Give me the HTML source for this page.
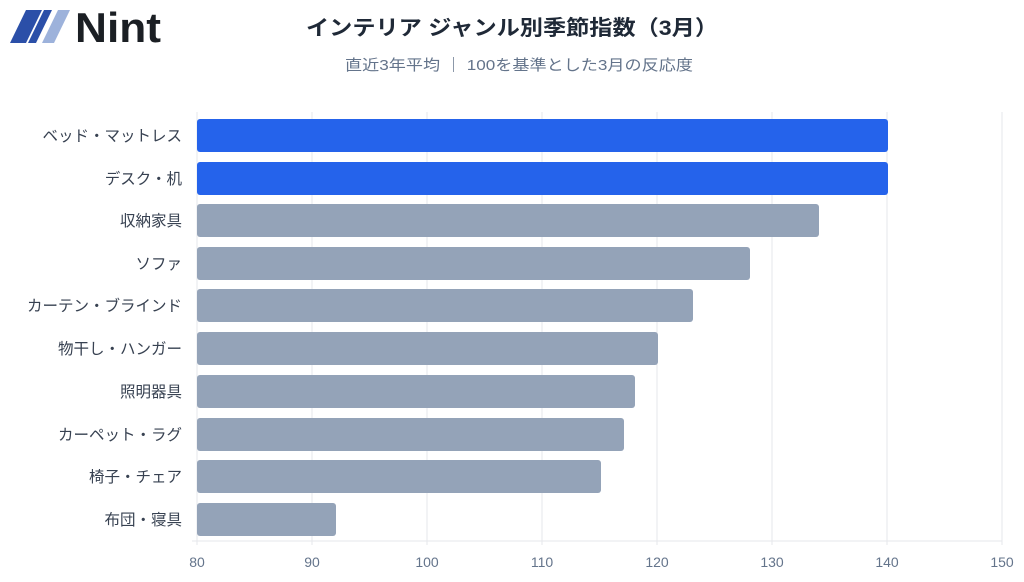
<!DOCTYPE html>
<html><head><meta charset="utf-8"><style>
body{margin:0;background:#fff;width:1024px;height:577px;overflow:hidden;font-family:"Liberation Sans","Noto Sans CJK JP",sans-serif}
</style></head><body>
<svg width="1024" height="577" xmlns="http://www.w3.org/2000/svg" font-family="Liberation Sans, Noto Sans CJK JP, sans-serif">
<rect width="1024" height="577" fill="#fff"/>
<!-- logo -->
<polygon points="10,43 26,10 42,10 26,43" fill="#2b4fa8"/>
<polygon points="28,43 44,10 52,10 36,43" fill="#2b4fa8"/>
<polygon points="42,43 58,10 70,10 54,43" fill="#9db2db"/>
<text x="75" y="42" font-size="42" font-weight="bold" fill="#1b1f24" textLength="86" lengthAdjust="spacingAndGlyphs">Nint</text>
<text x="512" y="35" font-size="21" font-weight="bold" fill="#1f2937" text-anchor="middle" textLength="412" lengthAdjust="spacingAndGlyphs">インテリア ジャンル別季節指数（3月）</text>
<text x="519" y="70" font-size="15" fill="#64748b" text-anchor="middle" textLength="348" lengthAdjust="spacingAndGlyphs">直近3年平均 ｜ 100を基準とした3月の反応度</text>
<g stroke="#e5e7eb" stroke-width="1">
<line x1="312" y1="112" x2="312" y2="545"/><line x1="427" y1="112" x2="427" y2="545"/>
<line x1="542" y1="112" x2="542" y2="545"/><line x1="657" y1="112" x2="657" y2="545"/>
<line x1="772" y1="112" x2="772" y2="545"/><line x1="887" y1="112" x2="887" y2="545"/>
<line x1="1002" y1="112" x2="1002" y2="545"/>
<line x1="197" y1="112" x2="197" y2="545"/>
<line x1="192" y1="541" x2="1002" y2="541"/>
</g>
<g>
<rect x="197" y="119" width="691" height="33" rx="3" fill="#2563eb"/>
<rect x="197" y="162" width="691" height="33" rx="3" fill="#2563eb"/>
<rect x="197" y="204" width="622" height="33" rx="3" fill="#94a3b8"/>
<rect x="197" y="247" width="553" height="33" rx="3" fill="#94a3b8"/>
<rect x="197" y="289" width="496" height="33" rx="3" fill="#94a3b8"/>
<rect x="197" y="332" width="461" height="33" rx="3" fill="#94a3b8"/>
<rect x="197" y="375" width="438" height="33" rx="3" fill="#94a3b8"/>
<rect x="197" y="418" width="427" height="33" rx="3" fill="#94a3b8"/>
<rect x="197" y="460" width="404" height="33" rx="3" fill="#94a3b8"/>
<rect x="197" y="503" width="139" height="33" rx="3" fill="#94a3b8"/>
</g>
<g font-size="15.5" fill="#374151" text-anchor="end">
<text x="182" y="141">ベッド・マットレス</text>
<text x="182" y="184">デスク・机</text>
<text x="182" y="226">収納家具</text>
<text x="182" y="269">ソファ</text>
<text x="182" y="311">カーテン・ブラインド</text>
<text x="182" y="354">物干し・ハンガー</text>
<text x="182" y="397">照明器具</text>
<text x="182" y="440">カーペット・ラグ</text>
<text x="182" y="482">椅子・チェア</text>
<text x="182" y="525">布団・寝具</text>
</g>
<g font-size="14" fill="#64748b" text-anchor="middle">
<text x="197" y="567">80</text><text x="312" y="567">90</text><text x="427" y="567">100</text>
<text x="542" y="567">110</text><text x="657" y="567">120</text><text x="772" y="567">130</text>
<text x="887" y="567">140</text><text x="1002" y="567">150</text>
</g>
</svg>
</body></html>
